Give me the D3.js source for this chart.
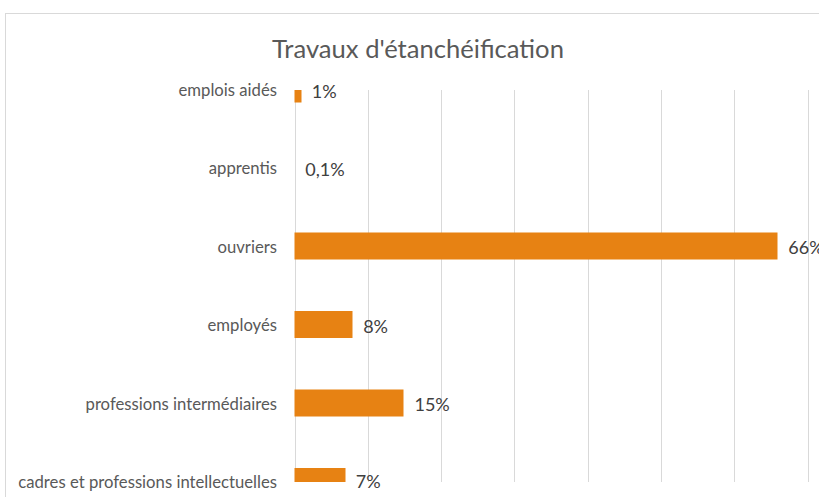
<!DOCTYPE html>
<html>
<head>
<meta charset="utf-8">
<script src="https://cdn.jsdelivr.net/npm/d3@7"></script>
<style>
  html, body { margin: 0; padding: 0; background: #fff; }
  svg { display: block; }
</style>
</head>
<body>
<div id="chart"></div>
<script>
const categories = ["emplois aidés", "apprentis", "ouvriers", "employés", "professions intermédiaires", "cadres et professions intellectuelles"];
const values = [1, 0.1, 66, 8, 15, 7];
const valueLabels = ["1%", "0,1%", "66%", "8%", "15%", "7%"];
const gridTicks = [0, 10, 20, 30, 40, 50, 60, 70];

const width = 819, height = 497;
const font = "Lato, 'DejaVu Sans Condensed', Arial, sans-serif";

const svg = d3.select("#chart").append("svg")
  .attr("width", width)
  .attr("height", height);

// cadre du graphique
svg.append("rect")
  .attr("x", 5.5).attr("y", 13.5)
  .attr("width", width + 20).attr("height", height + 20)
  .attr("fill", "#fff")
  .attr("stroke", "#d9d9d9");

const plotTop = 90, plotBottom = 482;

const x = d3.scaleLinear()
  .domain([0, 100])
  .range([294.5, 294.5 + 733]);

const y = d3.scaleBand()
  .domain(categories)
  .range([49.75, 520.75])
  .paddingInner(0.656)
  .paddingOuter(0.328);

svg.append("defs").append("clipPath").attr("id", "plot")
  .append("rect")
  .attr("x", 0).attr("y", plotTop)
  .attr("width", width).attr("height", plotBottom - plotTop);

// titre
svg.append("text")
  .attr("x", 418).attr("y", 58)
  .attr("text-anchor", "middle")
  .style("font-family", font)
  .style("font-size", "25.6px")
  .attr("fill", "#595959")
  .text("Travaux d'étanchéification");

// grille verticale
svg.append("g")
  .selectAll("line")
  .data(gridTicks)
  .join("line")
  .attr("x1", d => Math.round(x(d)) + 0.5)
  .attr("x2", d => Math.round(x(d)) + 0.5)
  .attr("y1", plotTop)
  .attr("y2", plotBottom)
  .attr("stroke", "#d9d9d9");

// barres (largeur ramenée au pixel entier)
svg.append("g")
  .attr("clip-path", "url(#plot)")
  .selectAll("rect")
  .data(values)
  .join("rect")
  .attr("x", x(0))
  .attr("y", (d, i) => y(categories[i]))
  .attr("width", d => Math.floor(x(d) - x(0)))
  .attr("height", y.bandwidth())
  .attr("fill", "#e78213");

// étiquettes des catégories
svg.append("g")
  .selectAll("text")
  .data(categories)
  .join("text")
  .attr("x", 277)
  .attr("y", d => y(d) + y.bandwidth() / 2 + 1)
  .attr("dy", "0.35em")
  .attr("text-anchor", "end")
  .style("font-family", font)
  .style("font-size", "16.7px")
  .attr("fill", "#595959")
  .text(d => d);

// étiquettes des valeurs
svg.append("g")
  .selectAll("text")
  .data(values)
  .join("text")
  .attr("x", d => x(d) + 10)
  .attr("y", (d, i) => Math.min(Math.max(y(categories[i]) + y.bandwidth() / 2 + 2, plotTop + 2), plotBottom))
  .attr("dy", "0.35em")
  .style("font-family", font)
  .style("font-size", "18px")
  .attr("fill", "#404040")
  .text((d, i) => valueLabels[i]);
</script>
</body>
</html>
